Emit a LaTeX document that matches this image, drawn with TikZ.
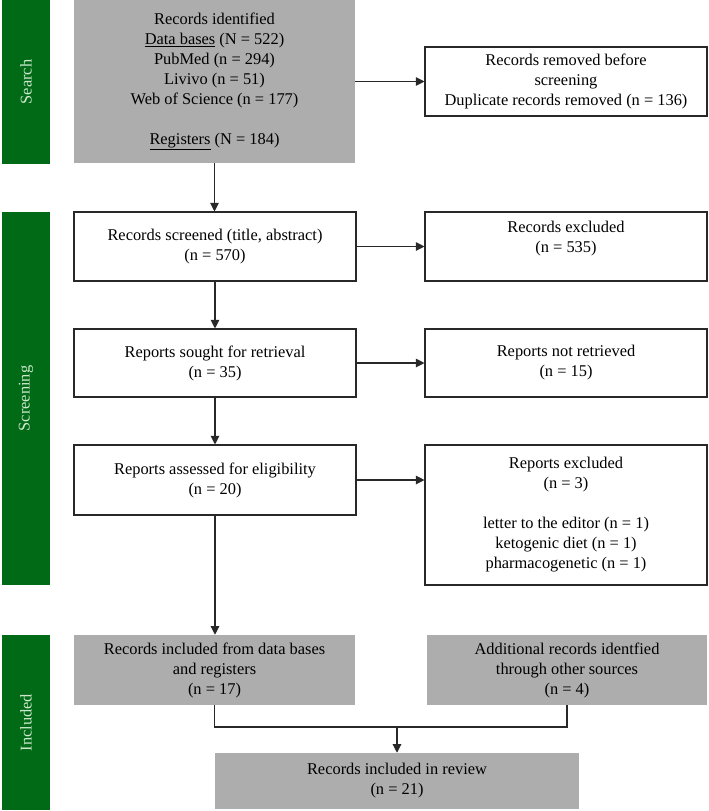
\documentclass[tikz,border=0pt]{standalone}
\usepackage{fontspec}
\setmainfont{Liberation Serif}
\usetikzlibrary{arrows.meta}
\definecolor{bargreen}{RGB}{0,106,22}
\definecolor{boxgray}{RGB}{173,173,173}
\definecolor{labelgreen}{RGB}{205,232,205}
\definecolor{edge}{RGB}{40,40,40}
\tikzset{
  x=0.75pt, y=-0.75pt,
  base/.style={align=center, inner sep=0pt, font=\fontsize{12.3}{15}\selectfont, text=black},
  wbox/.style={base, draw=edge, line width=0.8pt, fill=white},
  gbox/.style={base, fill=boxgray},
  bar/.style={fill=bargreen, inner sep=0pt, text=labelgreen, font=\fontsize{12.3}{14}\selectfont, rotate=90},
  conn/.style={draw=edge, line width=0.8pt},
  arr/.style={conn, -{Triangle[length=6.5pt,width=6.5pt]}}
}
\begin{document}
\begin{tikzpicture}
\useasboundingbox (0,0) rectangle (708,811);
% side bars
\node[bar, minimum width=123pt, minimum height=36pt] (sbar) at (26,82) {Search};
\node[bar, minimum width=279.75pt, minimum height=36pt] (scbar) at (26,398.5) {Screening};
\node[bar, minimum width=131.25pt, minimum height=36pt] (ibar) at (26,722.5) {Included};
% boxes
\node[gbox, minimum width=210.75pt, minimum height=122.25pt] (top) at (214.5,81.5)
  {Records identified\\\underline{Data bases} (N = 522)\\PubMed (n = 294)\\Livivo (n = 51)\\Web of Science (n = 177)\\[15pt]\underline{Registers} (N = 184)};
\node[wbox, minimum width=211.5pt, minimum height=51.75pt] (removed) at (566,81.5)
  {Records removed before\\screening\\Duplicate records removed (n = 136)};
\node[wbox, minimum width=211.5pt, minimum height=51.75pt] (screened) at (215,246.5)
  {Records screened (title, abstract)\\(n = 570)};
\node[wbox, minimum width=211.5pt, minimum height=51.75pt] (excluded) at (566,246.5)
  {Records excluded\\(n = 535)\\\mbox{}};
\node[wbox, minimum width=211.5pt, minimum height=51pt] (sought) at (215,363)
  {Reports sought for retrieval\\(n = 35)};
\node[wbox, minimum width=211.5pt, minimum height=51pt] (notret) at (566,363)
  {Reports not retrieved\\(n = 15)};
\node[wbox, minimum width=211.5pt, minimum height=52.5pt] (assessed) at (215,480)
  {Reports assessed for eligibility\\(n = 20)};
\node[wbox, minimum width=211.5pt, minimum height=105pt] (repexcl) at (566,515)
  {Reports excluded\\(n = 3)\\[15pt]letter to the editor (n = 1)\\ketogenic diet (n = 1)\\pharmacogenetic (n = 1)};
\node[gbox, minimum width=210.75pt, minimum height=52.5pt] (incl) at (214.5,670)
  {Records included from data bases\\and registers\\(n = 17)};
\node[gbox, minimum width=210pt, minimum height=52.5pt] (addl) at (567,670)
  {Additional records identfied\\through other sources\\(n = 4)};
\node[gbox, minimum width=273pt, minimum height=42pt] (review) at (397,781)
  {Records included in review\\(n = 21)};
% connectors
\draw[arr] (top.east) -- (removed.west);
\draw[arr] (top.south) -- (top.south |- screened.north);
\draw[arr] (screened.east) -- (excluded.west);
\draw[arr] (screened.south) -- (sought.north);
\draw[arr] (sought.east) -- (notret.west);
\draw[arr] (sought.south) -- (assessed.north);
\draw[arr] (assessed.east) -- (assessed.east -| repexcl.west);
\draw[arr] (assessed.south) -- (assessed.south |- incl.north);
\coordinate (jl) at (214.5,727);
\coordinate (jr) at (567,727);
\coordinate (jm) at (397,727);
\draw[conn] (incl.south) -- (jl) -- (jr) -- (addl.south);
\draw[arr] (jm) -- (review.north);
\end{tikzpicture}
\end{document}
